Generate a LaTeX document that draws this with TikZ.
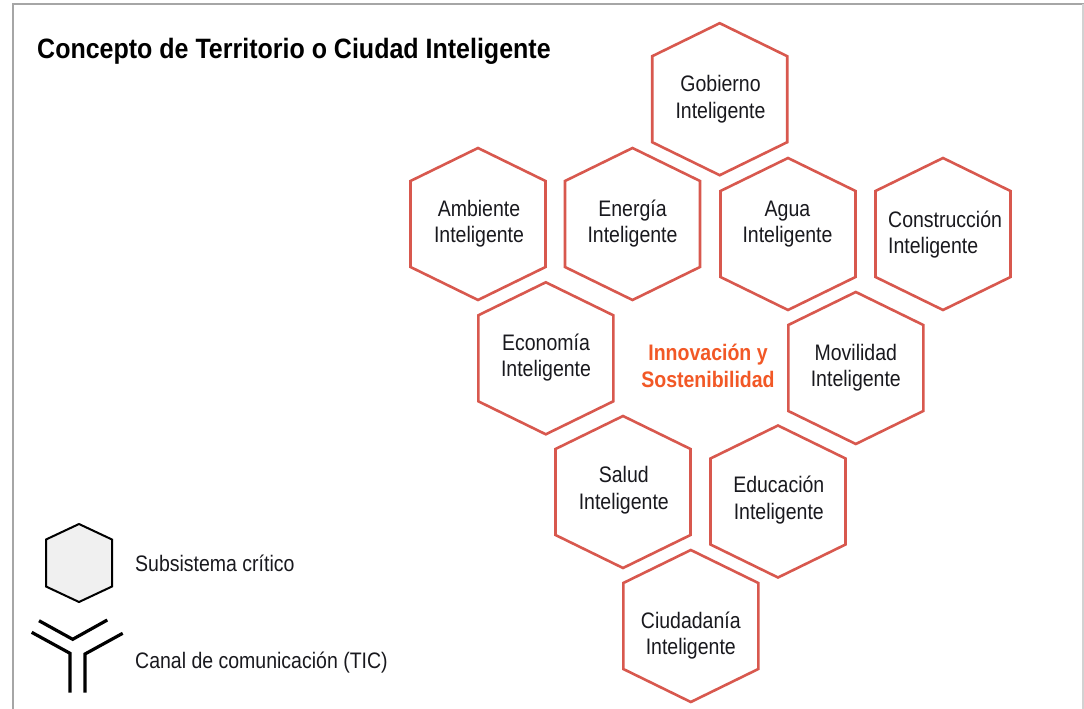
\documentclass[tikz,border=0pt]{standalone}
\usepackage{graphicx}
\usepackage{fontspec}
\setmainfont{Liberation Sans}
\definecolor{hexred}{RGB}{216,88,78}
\definecolor{innov}{RGB}{242,88,38}
\definecolor{textdark}{RGB}{25,25,30}
\newcommand{\vst}[1]{\scalebox{1}[1.15]{#1}}
\newcommand{\twoline}[2]{\vst{\begin{tabular}[t]{@{}c@{}}#1\\#2\end{tabular}}}
\newcommand{\twolineL}[2]{\vst{\begin{tabular}[t]{@{}l@{}}#1\\#2\end{tabular}}}
\tikzset{
  hexline/.style={draw=hexred, line width=2.6pt, line join=miter},
  hexa/.pic={\draw[hexline] (0,-76) -- (67.5,-43) -- (67.5,43) -- (0,76) -- (-67.5,43) -- (-67.5,-43) -- cycle;},
  hextext/.style={inner sep=0pt, anchor=base, text=textdark, font=\fontsize{19.5}{23.04}\selectfont},
  legtext/.style={inner sep=0pt, anchor=base west, text=textdark, font=\fontsize{19.5}{23.04}\selectfont},
  chan/.style={line width=3.2pt, black},
}
\begin{document}
\begin{tikzpicture}[x=1pt,y=-1pt]
\useasboundingbox (0,0) rectangle (1084,709);
\fill[white] (0,0) rectangle (1084,709);
% frame
\draw[gray!70, line width=1.5pt] (13,709) -- (13,4) -- (1084,4);
\draw[gray!35, line width=1.5pt] (1083,4) -- (1083,709);
% title
\node[inner sep=0pt, anchor=base west, font=\fontsize{25}{28}\selectfont\bfseries] (title) at (37,59) {\scalebox{1}[1.12]{Concepto de Territorio o Ciudad Inteligente}};
% hexagons
\pic at (719.7,99.2) {hexa};
\pic at (478,224) {hexa};
\pic at (632.5,224) {hexa};
\pic at (788,234) {hexa};
\pic at (943,234) {hexa};
\pic at (545.8,358.3) {hexa};
\pic at (855.8,368) {hexa};
\pic at (623,492) {hexa};
\pic at (778,501.5) {hexa};
\pic at (690.8,626) {hexa};
% texts
\node[hextext] (gob) at (720.5,91.7) {\twoline{Gobierno}{Inteligente}};
\node[hextext] (amb) at (479,216) {\twoline{Ambiente}{Inteligente}};
\node[hextext] (ene) at (632.5,216) {\twoline{Energía}{Inteligente}};
\node[hextext] (agu) at (787.5,216) {\twoline{Agua}{Inteligente}};
\node[hextext, anchor=base west] (con) at (888,227.3) {\twolineL{Construcción}{Inteligente}};
\node[hextext] (eco) at (546,350) {\twoline{Economía}{Inteligente}};
\node[hextext] (mov) at (855.8,360) {\twoline{Movilidad}{Inteligente}};
\node[hextext] (sal) at (623.8,482.7) {\twoline{Salud}{Inteligente}};
\node[hextext] (edu) at (778.8,492.7) {\twoline{Educación}{Inteligente}};
\node[hextext] (ciu) at (690.8,628.3) {\twoline{Ciudadanía}{Inteligente}};
\node[hextext, text=innov, font=\fontsize{19.5}{23}\selectfont\bfseries] (inn) at (708,360.7) {\twoline{Innovación y}{Sostenibilidad}};
% legend
\draw[black, line width=2pt, fill=gray!12] (79,524) -- (112,539.5) -- (112,586.5) -- (79,602) -- (46,586.5) -- (46,539.5) -- cycle;
\node[legtext] (leg1) at (135,571.5) {\vst{Subsistema crítico}};
\coordinate (cv1) at (39,620.7);
\coordinate (cv2) at (72.7,639.3);
\coordinate (cv3) at (107.3,620);
\coordinate (cl1) at (31.7,632.3);
\coordinate (cl2) at (70,653.3);
\coordinate (cl3) at (70,692.7);
\coordinate (cr1) at (122.7,633.3);
\coordinate (cr2) at (85,654);
\coordinate (cr3) at (85,692.7);
\draw[chan] (cv1) -- (cv2) -- (cv3);
\draw[chan] (cl1) -- (cl2) -- (cl3);
\draw[chan] (cr1) -- (cr2) -- (cr3);
\node[legtext] (leg2) at (135,668.5) {\vst{Canal de comunicación (TIC)}};
\end{tikzpicture}
\end{document}
